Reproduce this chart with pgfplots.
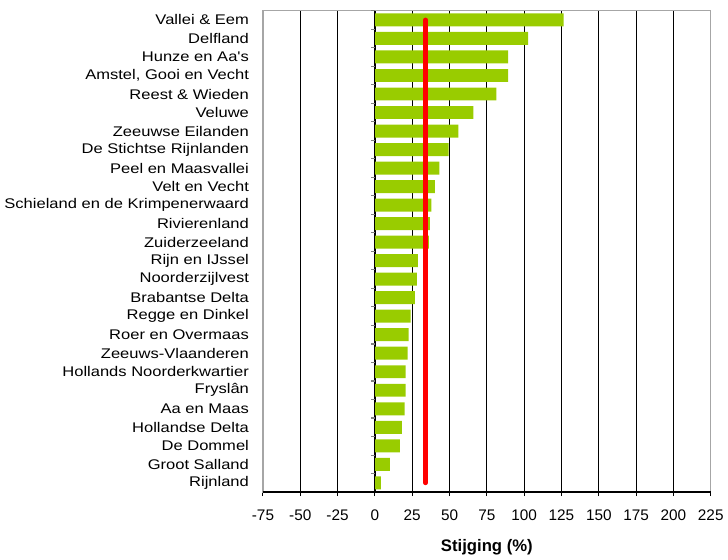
\documentclass[border=0pt]{standalone}
\usepackage{fontspec}
\setmainfont{Liberation Sans}
\newfontfamily\widesans[FakeStretch=1.18]{Liberation Sans}
\usepackage{pgfplots}
\pgfplotsset{compat=1.18}
\definecolor{barlime}{RGB}{153,204,0}

\begin{document}
\begin{tikzpicture}
\begin{axis}[
    scale only axis,
    width=335.6pt,
    height=360.8pt,
    xbar,
    bar width=0.7,
    xmin=-75, xmax=225,
    xtick={-75,-50,...,225},
    ymin=-0.5, ymax=25.5,
    y dir=reverse,
    ytick={0,...,25},
    yticklabels={
        Vallei \& Eem, Delfland, Hunze en Aa's, {Amstel, Gooi en Vecht},
        Reest \& Wieden, Veluwe, Zeeuwse Eilanden, De Stichtse Rijnlanden,
        Peel en Maasvallei, Velt en Vecht, Schieland en de Krimpenerwaard,
        Rivierenland, Zuiderzeeland, Rijn en IJssel, Noorderzijlvest,
        Brabantse Delta, Regge en Dinkel, Roer en Overmaas,
        Zeeuws-Vlaanderen, Hollands Noorderkwartier, Fryslân, Aa en Maas,
        Hollandse Delta, De Dommel, Groot Salland, Rijnland},
    y tick style={draw=none},
    x tick style={black, line width=0.8pt},
    xtick align=outside,
    xtick pos=bottom,
    major tick length=3pt,
    xmajorgrids,
    grid style={black, line width=0.6pt},
    axis line style={gray!70, line width=1pt},
    /pgf/number format/assume math mode=true,
    xticklabel style={font=\fontsize{11.5pt}{13pt}\selectfont, yshift=-7pt},
    yticklabel style={font=\widesans\fontsize{10.5pt}{12pt}\selectfont, xshift=-4pt},
    xlabel={\textbf{Stijging (\%)}},
    xlabel style={font=\fontsize{12.5pt}{14pt}\selectfont, yshift=-7pt},
]

% stijging per waterschap
\addplot[draw=none, fill=barlime] coordinates {
    (126.5,0) (102.6,1) (89.3,2) (89.3,3) (81.3,4) (66,5) (56,6) (49.4,7)
    (43.2,8) (40.1,9) (37.9,10) (36.8,11) (36.1,12) (28.8,13) (28.1,14)
    (26.8,15) (23.9,16) (22.6,17) (21.9,18) (20.6,19) (20.6,20) (19.9,21)
    (18,22) (16.8,23) (10,24) (4,25)
};

% gemiddelde
\addplot[red, line width=3.5pt, line cap=round, sharp plot] coordinates {
    (33.9,0) (33.9,25)
};

% categorie-as op x = 0
\draw[black, line width=0.8pt] (axis cs:0,-0.5) -- (axis cs:0,25.5);
\pgfplotsinvokeforeach{-0.5,0.5,...,25.5}{
    \draw[gray, line width=0.8pt] (axis cs:0,#1) -- ([xshift=-3pt]axis cs:0,#1);
}
\end{axis}
\draw[black, line width=1pt] (current axis.south west) -- (current axis.south east);
\path ([xshift=12pt,yshift=8pt]current axis.north east);
\end{tikzpicture}
\end{document}
